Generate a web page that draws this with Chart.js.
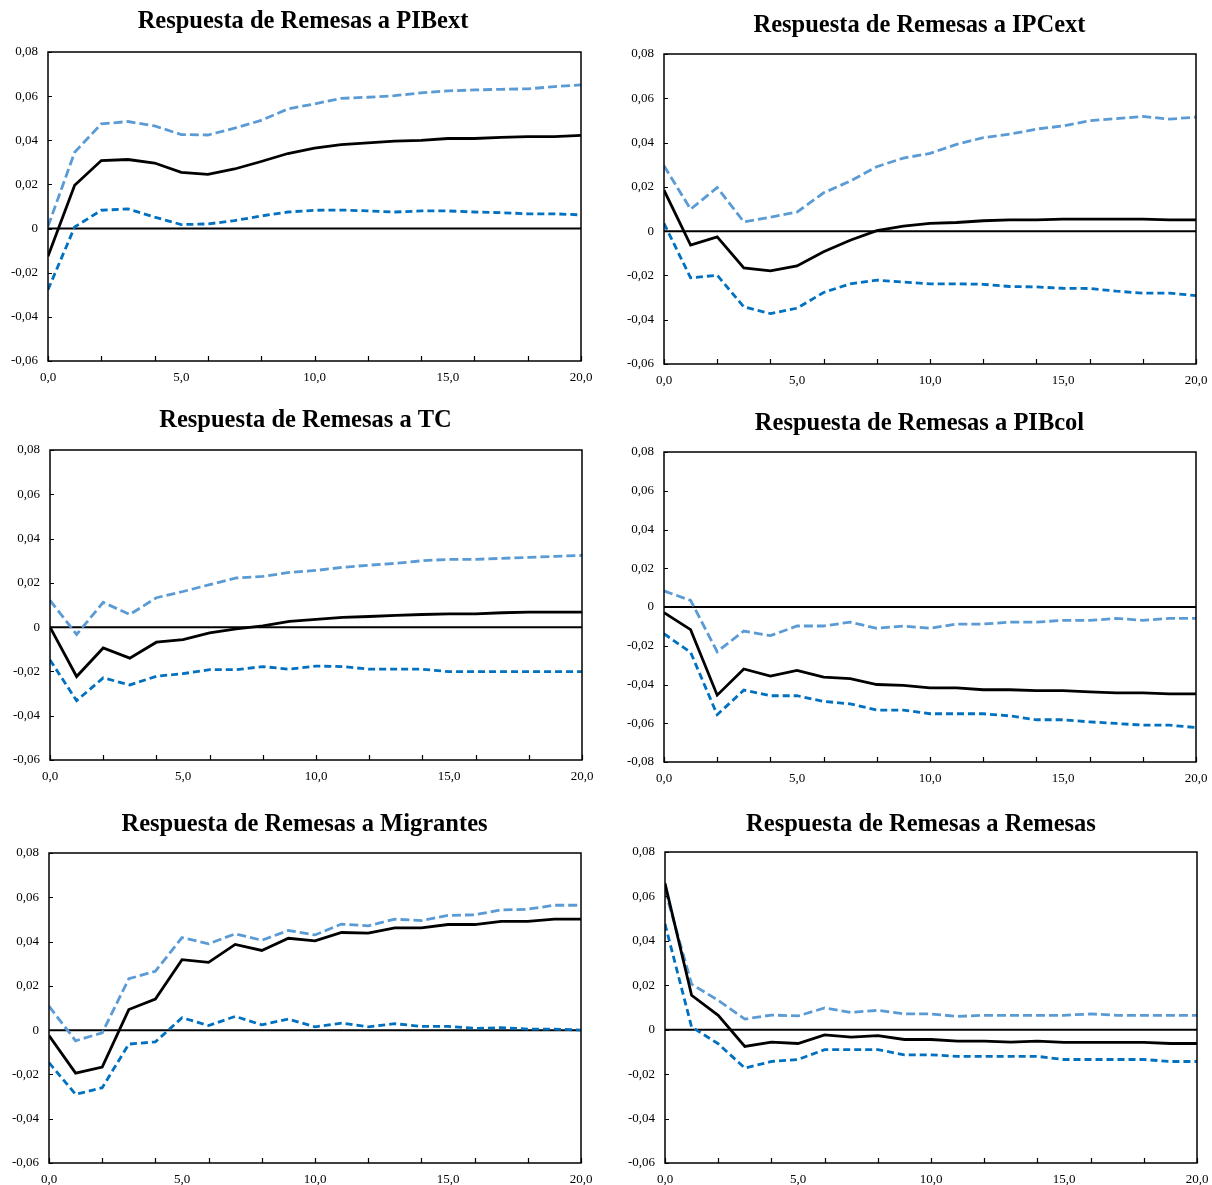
<!DOCTYPE html>
<html><head><meta charset="utf-8">
<script src="https://cdn.jsdelivr.net/npm/chart.js@4.4.1/dist/chart.umd.min.js"></script>
<style>
html,body{margin:0;padding:0;background:#fff;}
#wrap{position:relative;width:1212px;height:1185px;overflow:hidden;}
.panel{position:absolute;width:606px;height:395px;}
</style></head><body><div id="wrap">
<div class="panel" style="left:0;top:0"><canvas id="c1"></canvas></div>
<div class="panel" style="left:606px;top:0"><canvas id="c2"></canvas></div>
<div class="panel" style="left:0;top:395px"><canvas id="c3"></canvas></div>
<div class="panel" style="left:606px;top:395px"><canvas id="c4"></canvas></div>
<div class="panel" style="left:0;top:790px"><canvas id="c5"></canvas></div>
<div class="panel" style="left:606px;top:790px"><canvas id="c6"></canvas></div>
</div>
<script>
// ---------- data ----------
const periods = [0,1,2,3,4,5,6,7,8,9,10,11,12,13,14,15,16,17,18,19,20];
const xTickMarks = [0,2,4,6,8,10,12,14,16,18,20];

const titles = [
  "Respuesta de Remesas a PIBext",
  "Respuesta de Remesas a IPCext",
  "Respuesta de Remesas a TC",
  "Respuesta de Remesas a PIBcol",
  "Respuesta de Remesas a Migrantes",
  "Respuesta de Remesas a Remesas"
];

const pibextIRF   = [-0.0125,0.0196,0.0308,0.0313,0.0297,0.0255,0.0246,0.0270,0.0304,0.0340,0.0364,0.0380,0.0388,0.0396,0.0400,0.0408,0.0408,0.0413,0.0417,0.0417,0.0422];
const pibextUpper = [0.0010,0.0346,0.0474,0.0485,0.0465,0.0426,0.0424,0.0455,0.0490,0.0542,0.0565,0.0590,0.0595,0.0602,0.0615,0.0624,0.0628,0.0631,0.0633,0.0643,0.0651];
const pibextLower = [-0.0277,0.0007,0.0083,0.0089,0.0052,0.0018,0.0021,0.0036,0.0057,0.0075,0.0083,0.0084,0.0080,0.0075,0.0080,0.0080,0.0075,0.0072,0.0067,0.0067,0.0062];

const ipcextIRF   = [0.0185,-0.0063,-0.0026,-0.0166,-0.0179,-0.0157,-0.0093,-0.0041,0.0002,0.0023,0.0035,0.0039,0.0047,0.0051,0.0051,0.0054,0.0054,0.0054,0.0054,0.0051,0.0051];
const ipcextUpper = [0.0295,0.0099,0.0197,0.0042,0.0063,0.0086,0.0173,0.0226,0.0291,0.0330,0.0351,0.0392,0.0422,0.0438,0.0461,0.0475,0.0499,0.0508,0.0518,0.0506,0.0515];
const ipcextLower = [0.0035,-0.0211,-0.0199,-0.0342,-0.0372,-0.0348,-0.0277,-0.0238,-0.0221,-0.0230,-0.0238,-0.0238,-0.0240,-0.0250,-0.0252,-0.0258,-0.0259,-0.0271,-0.0280,-0.0280,-0.0291];

const tcIRF   = [0.0000,-0.0223,-0.0094,-0.0140,-0.0068,-0.0056,-0.0026,-0.0008,0.0006,0.0026,0.0035,0.0044,0.0048,0.0053,0.0057,0.0060,0.0060,0.0065,0.0068,0.0068,0.0068];
const tcUpper = [0.0121,-0.0033,0.0112,0.0057,0.0133,0.0161,0.0192,0.0222,0.0229,0.0247,0.0256,0.0270,0.0280,0.0288,0.0300,0.0306,0.0306,0.0311,0.0315,0.0320,0.0324];
const tcLower = [-0.0148,-0.0332,-0.0229,-0.0261,-0.0222,-0.0210,-0.0192,-0.0192,-0.0178,-0.0190,-0.0176,-0.0178,-0.0190,-0.0190,-0.0190,-0.0201,-0.0201,-0.0201,-0.0201,-0.0201,-0.0201];

const pibcolIRF   = [-0.0029,-0.0117,-0.0455,-0.0320,-0.0357,-0.0327,-0.0362,-0.0370,-0.0400,-0.0405,-0.0417,-0.0417,-0.0427,-0.0427,-0.0432,-0.0432,-0.0438,-0.0443,-0.0443,-0.0448,-0.0448];
const pibcolUpper = [0.0083,0.0034,-0.0231,-0.0124,-0.0148,-0.0098,-0.0098,-0.0078,-0.0110,-0.0098,-0.0110,-0.0088,-0.0088,-0.0078,-0.0078,-0.0069,-0.0069,-0.0059,-0.0069,-0.0059,-0.0059];
const pibcolLower = [-0.0138,-0.0234,-0.0556,-0.0429,-0.0458,-0.0458,-0.0487,-0.0500,-0.0532,-0.0532,-0.0551,-0.0551,-0.0551,-0.0562,-0.0582,-0.0582,-0.0593,-0.0601,-0.0610,-0.0610,-0.0622];

const migIRF   = [-0.0024,-0.0194,-0.0167,0.0093,0.0140,0.0318,0.0306,0.0387,0.0360,0.0415,0.0403,0.0441,0.0438,0.0462,0.0462,0.0477,0.0477,0.0491,0.0491,0.0501,0.0501];
const migUpper = [0.0108,-0.0048,-0.0012,0.0232,0.0266,0.0418,0.0390,0.0435,0.0406,0.0450,0.0430,0.0479,0.0471,0.0501,0.0495,0.0518,0.0521,0.0543,0.0546,0.0564,0.0564];
const migLower = [-0.0147,-0.0290,-0.0260,-0.0063,-0.0053,0.0056,0.0021,0.0062,0.0024,0.0050,0.0015,0.0032,0.0015,0.0029,0.0017,0.0017,0.0008,0.0011,0.0005,0.0005,0.0000];

const remIRF   = [0.0659,0.0155,0.0065,-0.0075,-0.0056,-0.0062,-0.0023,-0.0033,-0.0027,-0.0044,-0.0044,-0.0051,-0.0051,-0.0056,-0.0051,-0.0057,-0.0057,-0.0057,-0.0057,-0.0062,-0.0062];
const remUpper = [0.0629,0.0205,0.0132,0.0048,0.0066,0.0062,0.0098,0.0078,0.0087,0.0071,0.0071,0.0060,0.0065,0.0065,0.0065,0.0065,0.0071,0.0065,0.0065,0.0065,0.0065];
const remLower = [0.0476,0.0012,-0.0063,-0.0173,-0.0143,-0.0134,-0.0090,-0.0090,-0.0090,-0.0113,-0.0113,-0.0120,-0.0120,-0.0120,-0.0120,-0.0134,-0.0134,-0.0134,-0.0134,-0.0143,-0.0143];

const yRanges = [[-0.06,0.08],[-0.06,0.08],[-0.06,0.08],[-0.08,0.08],[-0.06,0.08],[-0.06,0.08]];

// ---------- layout / style ----------
const panels = [
  {id:'c1', irf:pibextIRF, up:pibextUpper, lo:pibextLower, L:48, R:25, T:52, XH:34, tx:303,   ty:22},
  {id:'c2', irf:ipcextIRF, up:ipcextUpper, lo:ipcextLower, L:58, R:16, T:54, XH:31, tx:313.5, ty:26},
  {id:'c3', irf:tcIRF,     up:tcUpper,     lo:tcLower,     L:50, R:24, T:55, XH:30, tx:305.5, ty:26},
  {id:'c4', irf:pibcolIRF, up:pibcolUpper, lo:pibcolLower, L:58, R:16, T:57, XH:28, tx:313.5, ty:29},
  {id:'c5', irf:migIRF,    up:migUpper,    lo:migLower,    L:49, R:25, T:63, XH:22, tx:304.5, ty:35},
  {id:'c6', irf:remIRF,    up:remUpper,    lo:remLower,    L:59, R:15, T:62, XH:22, tx:315,   ty:35}
];
const SERIF = '"Liberation Serif", "Times New Roman", serif';

const decor = {
  id:'decor',
  beforeDatasetsDraw(chart){
    const {ctx, chartArea:a, scales:{y}} = chart;
    const y0 = y.getPixelForValue(0);
    ctx.save();
    ctx.strokeStyle = '#000'; ctx.lineWidth = 2;
    ctx.beginPath(); ctx.moveTo(a.left, y0); ctx.lineTo(a.right, y0); ctx.stroke();
    ctx.restore();
  },
  afterDatasetsDraw(chart){
    const {ctx, chartArea:a, scales:{x,y}} = chart;
    ctx.save();
    ctx.strokeStyle = '#000'; ctx.lineWidth = 1.5;
    ctx.strokeRect(a.left, a.top, a.right - a.left, a.bottom - a.top);
    ctx.lineWidth = 1.2;
    ctx.beginPath();
    xTickMarks.forEach(v => { const px = Math.round(x.getPixelForValue(v)) + 0.5; ctx.moveTo(px, a.bottom); ctx.lineTo(px, a.bottom - 5); });
    y.ticks.forEach(t => { const py = Math.round(y.getPixelForValue(t.value)) + 0.5; ctx.moveTo(a.left, py); ctx.lineTo(a.left + 4, py); });
    ctx.stroke();
    ctx.restore();
  },
  afterDraw(chart){
    const o = chart.options.plugins.decor;
    const ctx = chart.ctx;
    ctx.save();
    ctx.fillStyle = '#000';
    ctx.font = 'bold 24.5px ' + SERIF;
    ctx.textAlign = 'center'; ctx.textBaseline = 'middle';
    ctx.fillText(o.title, o.tx, o.ty);
    ctx.restore();
  }
};

function fmtY(v){ if (Math.abs(v) < 1e-9) return '0'; return v.toFixed(2).replace('.', ','); }
function fmtX(v){ return Number(v).toFixed(1).replace('.', ','); }

panels.forEach((p, i) => {
  new Chart(document.getElementById(p.id), {
    type:'line',
    data:{
      labels: periods,
      datasets:[
        {data:p.irf, borderColor:'#000000', borderWidth:2.8, pointRadius:0, tension:0},
        {data:p.up,  borderColor:'#5B9BD5', borderWidth:2.8, borderDash:[9,4], pointRadius:0, tension:0},
        {data:p.lo,  borderColor:'#0070C0', borderWidth:2.8, borderDash:[7,4], pointRadius:0, tension:0}
      ]
    },
    options:{
      responsive:true, maintainAspectRatio:false, animation:false,
      layout:{padding:{top:p.T, right:p.R, left:0, bottom:0}},
      plugins:{legend:{display:false}, tooltip:{enabled:false}, title:{display:false},
        decor:{title:titles[i], tx:p.tx, ty:p.ty}},
      scales:{
        x:{type:'linear', min:0, max:20,
          grid:{display:true, color:'rgba(0,0,0,0)', drawOnChartArea:false, drawTicks:true, tickLength:7},
          border:{display:false},
          ticks:{stepSize:5, padding:2, color:'#000', font:{family:SERIF, size:13}, callback:fmtX, maxRotation:0},
          afterFit(s){ s.height = p.XH; }
        },
        y:{min:yRanges[i][0], max:yRanges[i][1],
          grid:{display:false, drawTicks:false}, border:{display:false},
          ticks:{stepSize:0.02, padding:10, color:'#000', font:{family:SERIF, size:13}, callback:fmtY},
          afterFit(s){ s.width = p.L; }
        }
      }
    },
    plugins:[decor]
  });
});
</script>
</body></html>
